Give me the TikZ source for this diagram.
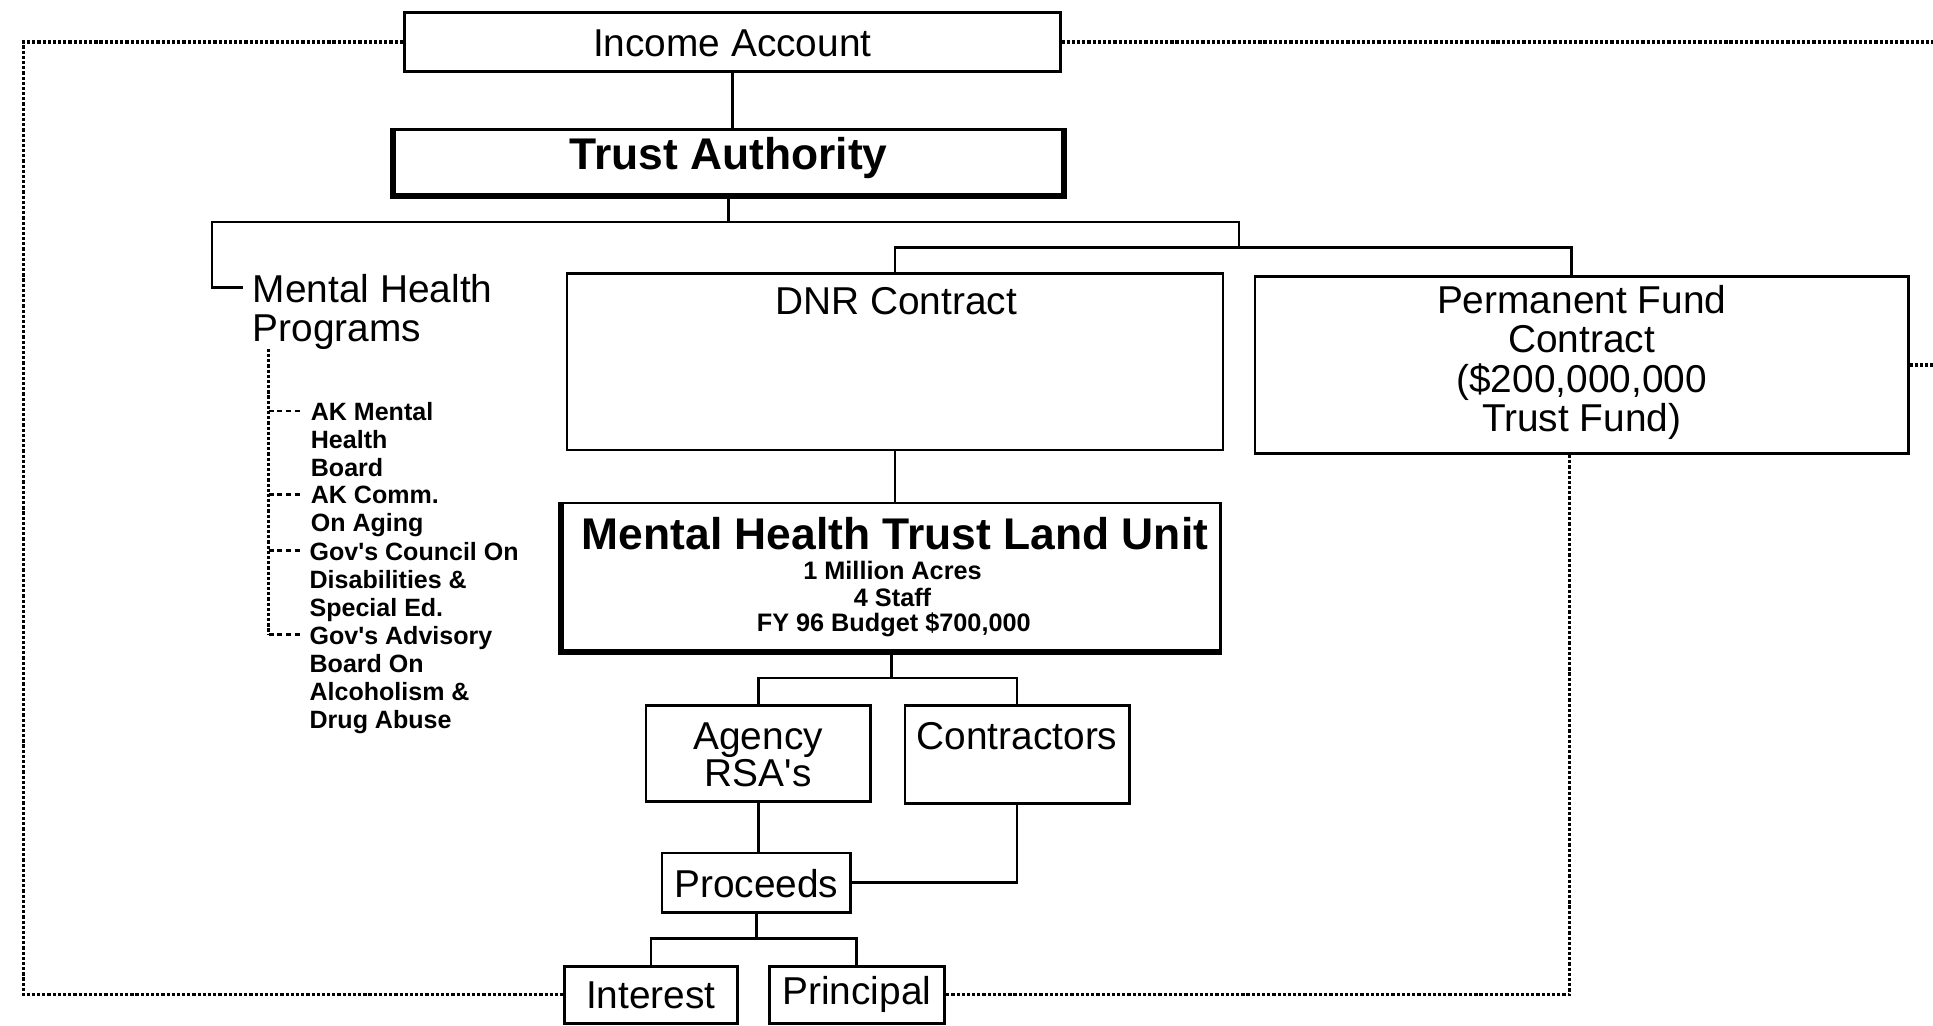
\documentclass[tikz,border=0pt]{standalone}
\usepackage{fontspec}
\setmainfont{Liberation Sans}
\begin{document}
\begin{tikzpicture}[x=1pt,y=-1pt,
  box/.style={draw, line width=2.2pt, inner sep=0pt, align=center},
  txt/.style={inner sep=0pt, align=center, font=\fontsize{31.5}{32}\selectfont},
  bigtxt/.style={inner sep=0pt, align=center, font=\bfseries\fontsize{36}{36}\selectfont},
  smalltxt/.style={inner sep=0pt, align=center, font=\bfseries\fontsize{20.5}{22}\selectfont},
  subtxt/.style={inner sep=0pt, align=left, anchor=north west, font=\bfseries\fontsize{20.3}{22.7}\selectfont},
  conn/.style={line width=2.2pt},
  dots/.style={line width=2.6pt, dash pattern=on 2.6pt off 1.6pt},
  dsh/.style={line width=2.2pt, dash pattern=on 4pt off 3pt},
  thickside/.style={line width=5pt}]
\useasboundingbox[fill=white] (0,0) rectangle (1568,832);

% boxes
\node[box, minimum width=532pt, minimum height=48pt] (inc) at (594,34) {};
\node[txt] (inct) at (594,35) {Income Account};
\node[box, minimum width=542pt, minimum height=53pt] (ta) at (591,131.5) {};
\draw[thickside] (ta.north west) -- (ta.south west) -- (ta.south east) -- (ta.north east);
\node[bigtxt] (tat) at (591,128) {Trust Authority};

\node[box, minimum width=532pt, minimum height=143pt] (dnr) at (726,293.5) {};
\node[txt] (dnrt) at (727,244) {DNR Contract};
\node[box, minimum width=530pt, minimum height=144pt] (pf) at (1283,296) {};
\node[txt] (pft) at (1283,294) {Permanent Fund\\Contract\\(\$200,000,000\\Trust Fund)};

\node[box, minimum width=534pt, minimum height=120pt] (lu) at (723,468) {};
\draw[thickside] (lu.north west) -- (lu.south west) -- (lu.south east);
\node[bigtxt] (lut) at (726,433) {Mental Health Trust Land Unit};
\node[smalltxt] (lu1) at (724,463) {1 Million Acres};
\node[smalltxt] (lu2) at (724,485) {4 Staff};
\node[smalltxt] (lu3) at (725,507) {FY 96 Budget \$700,000};

\node[box, minimum width=182pt, minimum height=78pt] (ag) at (615,611) {};
\node[txt, font=\fontsize{31.5}{30}\selectfont] (agt) at (615,612) {Agency\\RSA\textquotesingle s};
\node[box, minimum width=182pt, minimum height=80pt] (con) at (825,612) {};
\node[txt] (cont) at (825,597) {Contractors};
\node[box, minimum width=153pt, minimum height=48pt] (pro) at (613.5,716) {};
\node[txt] (prot) at (613.5,717) {Proceeds};
\node[box, minimum width=140pt, minimum height=46pt] (int) at (528,807) {};
\node[txt] (intt) at (528,807) {Interest};
\node[box, minimum width=142pt, minimum height=46pt] (pri) at (695,807) {};
\node[txt] (prit) at (695,807) {Principal};

% mental health programs
\node[txt, align=left, anchor=north west] (mhp) at (205,222) {Mental Health\\Programs};
\node[subtxt] (s1) at (252,326.4) {AK Mental\\Health\\Board};
\node[subtxt] (s2) at (252,394.4) {AK Comm.\\On Aging};
\node[subtxt] (s3) at (251,439.8) {Gov\textquotesingle s Council On\\Disabilities \&\\Special Ed.};
\node[subtxt] (s4) at (251,507.9) {Gov\textquotesingle s Advisory\\Board On\\Alcoholism \&\\Drug Abuse};

\coordinate (vtop) at (218,283);
\coordinate (b1) at ([xshift=-7pt,yshift=-7pt]s1.north west);
\coordinate (b2) at ([xshift=-7pt,yshift=-7pt]s2.north west);
\coordinate (b3) at ([xshift=-6pt,yshift=-7pt]s3.north west);
\coordinate (b4) at ([xshift=-6pt,yshift=-7pt]s4.north west);
\draw[dots] (vtop) -- (vtop |- b4);
\draw[dsh] (vtop |- b1) -- (b1);
\draw[dsh] (vtop |- b2) -- (b2);
\draw[dsh] (vtop |- b3) -- (b3);
\draw[dsh] (vtop |- b4) -- (b4);

% solid connectors
\coordinate (hL) at (172,180);
\coordinate (hR) at (1005,180);
\coordinate (h2) at (1005,201);
\draw[conn] (inc.south) -- (inc.south |- ta.north);
\draw[conn] (ta.south) -- (ta.south |- hL);
\draw[conn] ([xshift=-8pt,yshift=-11pt]mhp.north west) -| (hL) -- (hR) -- (h2);
\draw[conn] (dnr.north) |- (h2) -| ([xshift=-8pt]pf.north);
\draw[conn] (dnr.south) -- (dnr.south |- lu.north);
\coordinate (h3) at (722,550);
\draw[conn] (lu.south) -- (lu.south |- h3);
\draw[conn] (ag.north) |- (h3) -| (con.north);
\draw[conn] (ag.south) -- (ag.south |- pro.north);
\draw[conn] (con.south) |- (pro.east);
\coordinate (h4) at (613,761);
\draw[conn] (pro.south) -- (pro.south |- h4);
\draw[conn] (int.north) |- (h4) -| (pri.north);

% dotted connectors
\coordinate (redge) at (1568,36);
\draw[dots] (inc.west) -| (19,420) |- (int.west);
\draw[dots] (inc.east) -- (inc.east -| redge);
\draw[dots] (pf.east) -- (pf.east -| redge);
\draw[dots] ([xshift=-10pt]pf.south) |- (pri.east);
\end{tikzpicture}
\end{document}
